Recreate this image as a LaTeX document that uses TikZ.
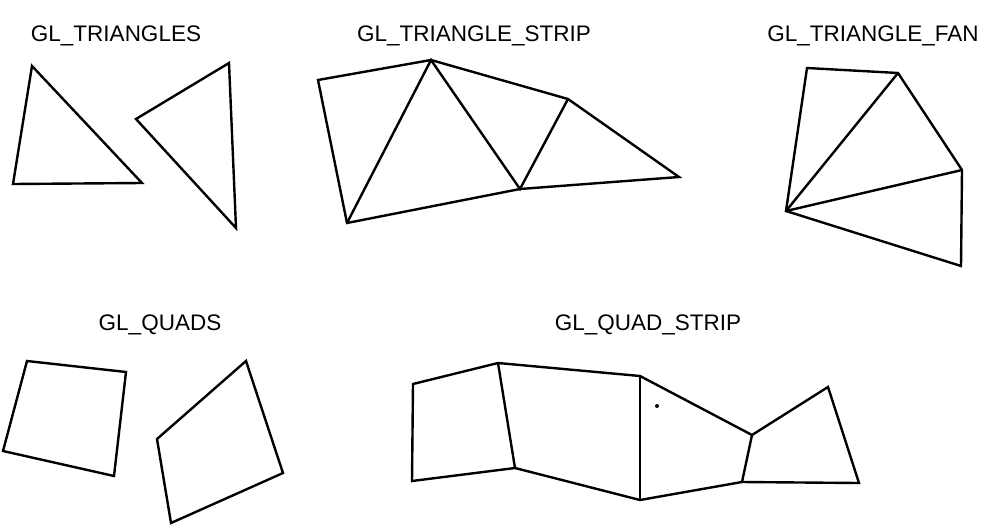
\documentclass[tikz,border=0pt]{standalone}
\usepackage{fontspec}
\setmainfont{Liberation Sans}
\begin{document}
\begin{tikzpicture}[x=1pt,y=-1pt,
  edge/.style={line width=2.4pt,line join=miter,line cap=round},
  title/.style={font=\fontsize{22.5}{26}\selectfont,inner sep=0pt,anchor=center}]
\useasboundingbox (0,0) rectangle (1001,525);
% titles
\node[title] (t1) at (116,36) {GL\_TRIANGLES};
\node[title] (t2) at (474,36) {GL\_TRIANGLE\_STRIP};
\node[title] (t3) at (873,36) {GL\_TRIANGLE\_FAN};
\node[title] (t4) at (160,325) {GL\_QUADS};
\node[title] (t5) at (648,325) {GL\_QUAD\_STRIP};
% GL_TRIANGLES
\coordinate (a1) at (32,66); \coordinate (a2) at (13,184); \coordinate (a3) at (142,183);
\coordinate (b1) at (229,63); \coordinate (b2) at (136,119); \coordinate (b3) at (236,228);
\draw[edge] (a1) -- (a2) -- (a3) -- cycle;
\draw[edge] (b1) -- (b2) -- (b3) -- cycle;
% GL_TRIANGLE_STRIP
\coordinate (sA) at (318,80); \coordinate (sB) at (431,60); \coordinate (sC) at (347,223);
\coordinate (sD) at (520,189); \coordinate (sE) at (568,99); \coordinate (sF) at (679,177);
\draw[edge] (sC) -- (sA) -- (sB) -- (sE) -- (sF) -- (sD) -- (sC) -- cycle;
\draw[edge] (sC) -- (sB) -- (sD) -- (sE);
% GL_TRIANGLE_FAN
\coordinate (fO) at (786,211); \coordinate (f1) at (807,68); \coordinate (f2) at (898,73);
\coordinate (f3) at (962,170); \coordinate (f4) at (961,266);
\draw[edge] (fO) -- (f1) -- (f2) -- (f3) -- (f4) -- cycle;
\draw[edge] (fO) -- (f2);
\draw[edge] (fO) -- (f3);
% GL_QUADS
\coordinate (q1) at (27,361); \coordinate (q2) at (126,372); \coordinate (q3) at (114,476); \coordinate (q4) at (3,451);
\coordinate (r1) at (246,361); \coordinate (r2) at (283,473); \coordinate (r3) at (171,523); \coordinate (r4) at (157,439);
\draw[edge] (q1) -- (q2) -- (q3) -- (q4) -- cycle;
\draw[edge] (r1) -- (r2) -- (r3) -- (r4) -- cycle;
% GL_QUAD_STRIP
\coordinate (u1) at (413,384); \coordinate (u2) at (498,363); \coordinate (u3) at (640,376);
\coordinate (u4) at (752,435); \coordinate (u5) at (828,387);
\coordinate (d1) at (412,481); \coordinate (d2) at (515,468); \coordinate (d3) at (640,500);
\coordinate (d4) at (742,482); \coordinate (d5) at (859,483);
\draw[edge] (d1) -- (u1) -- (u2) -- (u3) -- (u4) -- (u5) -- (d5) -- (d4) -- (d3) -- (d2) -- cycle;
\draw[edge] (u2) -- (d2);
\draw[edge] (u3) -- (d3);
\draw[edge] (u4) -- (d4);
\fill (657,406) circle (2);
\end{tikzpicture}
\end{document}
